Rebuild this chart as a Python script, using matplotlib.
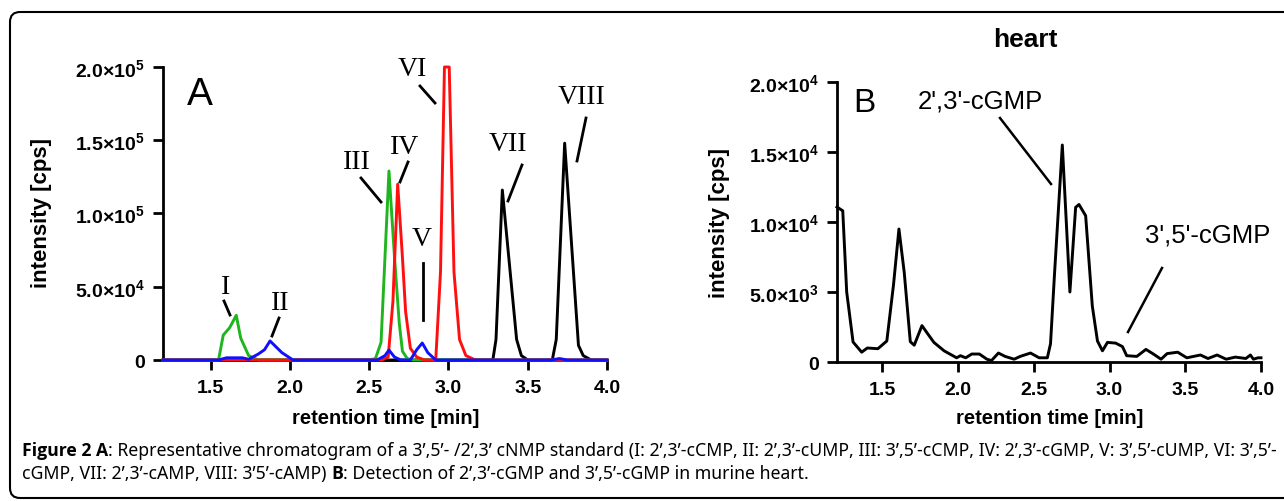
import matplotlib
matplotlib.use('Agg')
import matplotlib.pyplot as plt
from matplotlib.patches import FancyBboxPatch
from matplotlib.lines import Line2D
from matplotlib.transforms import IdentityTransform

plt.rcParams['font.family'] = ['Liberation Sans', 'DejaVu Sans']
plt.rcParams['mathtext.fontset'] = 'custom'
plt.rcParams['mathtext.rm'] = 'Liberation Sans:bold'
plt.rcParams['mathtext.bf'] = 'Liberation Sans:bold'
plt.rcParams['mathtext.it'] = 'Liberation Sans:bold'

# ---------------- data: panel A (retention time [min], intensity [cps]) ----------------
a_black_t = [1.2, 3.28, 3.30, 3.34, 3.43, 3.46, 3.50, 3.655, 3.68, 3.733, 3.82, 3.85, 3.90, 4.0]
a_black_v = [0, 0, 14e3, 116e3, 14e3, 3e3, 0, 0, 14e3, 148e3, 10e3, 3e3, 0, 0]

a_green_t = [1.2, 1.55, 1.58, 1.62, 1.662, 1.69, 1.74, 1.80, 2.50, 2.54, 2.575, 2.625,
             2.66, 2.69, 2.71, 2.74, 2.78, 4.0]
a_green_v = [0, 0, 17e3, 22e3, 30.5e3, 15e3, 3e3, 0, 0, 1e3, 12e3, 129e3,
             70e3, 25e3, 6e3, 1e3, 0, 0]

a_red_t = [1.2, 2.58, 2.62, 2.65, 2.68, 2.71, 2.73, 2.76, 2.80, 2.85, 2.92, 2.95,
           2.975, 3.005, 3.035, 3.07, 3.11, 3.17, 4.0]
a_red_v = [0, 0, 2e3, 40e3, 120e3, 70e3, 33e3, 8e3, 2e3, 0, 0, 60e3,
           200e3, 200e3, 60e3, 14e3, 3e3, 0, 0]

a_blue_t = [1.2, 1.55, 1.60, 1.70, 1.74, 1.80, 1.84, 1.875, 1.95, 2.02, 2.55, 2.60,
            2.625, 2.66, 2.70, 2.76, 2.80, 2.835, 2.87, 2.92, 3.65, 3.70, 3.75, 4.0]
a_blue_v = [0, 0, 1.5e3, 1.5e3, 0.5e3, 4e3, 7e3, 13e3, 5e3, 0, 0, 3e3,
            6.8e3, 2e3, 0, 0, 7e3, 11.6e3, 5e3, 0, 0, 1e3, 0, 0]

a_peak_labels = ['I', 'II', 'III', 'IV', 'V', 'VI', 'VII', 'VIII']

# ---------------- data: panel B (heart) ----------------
b_t = [1.2, 1.238, 1.264, 1.306, 1.363, 1.40, 1.47, 1.529, 1.573, 1.609, 1.644, 1.684,
       1.71, 1.761, 1.80, 1.84, 1.907, 1.99, 2.015, 2.05, 2.09, 2.14, 2.19, 2.22, 2.266,
       2.31, 2.37, 2.41, 2.478, 2.535, 2.589, 2.61, 2.637, 2.688, 2.738, 2.776, 2.798,
       2.842, 2.886, 2.92, 2.953, 2.986, 3.04, 3.085, 3.113, 3.18, 3.24, 3.285, 3.34,
       3.38, 3.45, 3.51, 3.6, 3.65, 3.71, 3.77, 3.83, 3.9, 3.93, 3.95, 3.98, 4.0]
b_v = [11.07e3, 10.8e3, 5.0e3, 1.43e3, 0.7e3, 1.0e3, 0.95e3, 1.5e3, 5.5e3, 9.5e3, 6.4e3, 1.45e3,
       1.2e3, 2.6e3, 2.0e3, 1.4e3, 0.8e3, 0.3e3, 0.45e3, 0.3e3, 0.57e3, 0.57e3, 0.2e3, 0.1e3, 0.64e3,
       0.4e3, 0.2e3, 0.4e3, 0.64e3, 0.3e3, 0.3e3, 1.3e3, 6.4e3, 15.5e3, 5.0e3, 11.05e3, 11.25e3,
       10.45e3, 4.0e3, 1.5e3, 0.8e3, 1.4e3, 1.35e3, 1.1e3, 0.45e3, 0.4e3, 0.9e3, 0.6e3, 0.2e3,
       0.6e3, 0.7e3, 0.3e3, 0.5e3, 0.25e3, 0.5e3, 0.2e3, 0.35e3, 0.25e3, 0.5e3, 0.2e3, 0.3e3, 0.3e3]

x_ticks = [1.5, 2.0, 2.5, 3.0, 3.5, 4.0]
x_ticklabels = ['1.5', '2.0', '2.5', '3.0', '3.5', '4.0']
a_yticks = [0, 5e4, 1e5, 1.5e5, 2e5]
a_yticklabels = ['0', '5.0×10$^{4}$', '1.0×10$^{5}$', '1.5×10$^{5}$', '2.0×10$^{5}$']
b_yticks = [0, 5e3, 1e4, 1.5e4, 2e4]
b_yticklabels = ['0', '5.0×10$^{3}$', '1.0×10$^{4}$', '1.5×10$^{4}$', '2.0×10$^{4}$']

caption_line1 = [("Figure 2 A", 'bold'),
                 (": Representative chromatogram of a 3’,5’- /2’,3’ cNMP standard (I: 2’,3’-cCMP, "
                  "II: 2’,3’-cUMP, III: 3’,5’-cCMP, IV: 2’,3’-cGMP, V: 3’,5’-cUMP, VI: 3’,5’-", 'normal')]
caption_line2 = [("cGMP, VII: 2’,3’-cAMP, VIII: 3’5’-cAMP) ", 'normal'), ("B", 'bold'),
                 (": Detection of 2’,3’-cGMP and 3’,5’-cGMP in murine heart.", 'normal')]

# ---------------- figure ----------------
W, H = 1284, 502
fig = plt.figure(figsize=(W / 100, H / 100), dpi=100)
fig.patch.set_facecolor('white')


def fx(px):
    return px / W


def fy(py):
    return 1 - py / H


def style(ax, yticks, yticklabels):
    ax.set_xlim(1.2, 4.0)
    ax.set_ylim(yticks[0], yticks[-1])
    for s in ['top', 'right']:
        ax.spines[s].set_visible(False)
    for s in ['left', 'bottom']:
        ax.spines[s].set_linewidth(2)
    ax.set_xticks(x_ticks, x_ticklabels, fontsize=14, fontweight='bold')
    ax.set_yticks(yticks, yticklabels, fontsize=14, fontweight='bold')
    ax.tick_params(axis='both', width=2, length=7)
    ax.tick_params(axis='x', pad=7)
    ax.tick_params(axis='y', pad=6)
    ax.patch.set_alpha(0)


# Panel A
axA = fig.add_axes([fx(163), fy(361), fx(607) - fx(163), fy(68) - fy(361)])
style(axA, a_yticks, a_yticklabels)
lw = 2.1
axA.plot(a_black_t, a_black_v, color='black', lw=lw, clip_on=False, zorder=3)
axA.plot(a_green_t, a_green_v, color='#1fb51f', lw=lw, clip_on=False, zorder=4)
axA.plot(a_red_t, a_red_v, color='#ff1010', lw=lw, clip_on=False, zorder=5)
axA.plot(a_blue_t, a_blue_v, color='#1010ff', lw=lw, clip_on=False, zorder=6)

# Panel B
axB = fig.add_axes([fx(837), fy(363), fx(1261) - fx(837), fy(83) - fy(363)])
style(axB, b_yticks, b_yticklabels)
axB.plot(b_t, b_v, color='black', lw=lw, clip_on=False, zorder=3)

# axis labels
for xc in (386, 1050):
    fig.text(fx(xc), fy(418), 'retention time [min]', ha='center', va='center',
             fontsize=14.5, fontweight='bold')
for xc, yc in ((42, 213), (720, 223)):
    fig.text(fx(xc), fy(yc), 'intensity [cps]', ha='center', va='center',
             fontsize=16, fontweight='bold', rotation=90)

# panel letters and title
fig.text(fx(200), fy(95), 'A', ha='center', va='center', fontsize=28)
fig.text(fx(864), fy(104), 'B', ha='center', va='center', fontsize=24)
fig.text(fx(1025), fy(40), 'heart', ha='center', va='center', fontsize=19, fontweight='bold')

# peak labels (panel A) : text position, leader line start/end (pixels)
a_label_pos = [(226, 287), (280, 303), (357, 163), (405, 148), (422, 240), (412, 69), (508, 145), (582, 98)]
a_label_lines = [((224, 302), (230, 316)), ((279, 319), (272, 337)), ((361, 179), (381, 203)),
                 ((408, 163), (400, 183)), ((423, 264), (423, 321)), ((420, 87), (435, 104)),
                 ((522, 166), (508, 202)), ((586, 119), (577, 162))]
for lab, (tx, ty), ((x1, y1), (x2, y2)) in zip(a_peak_labels, a_label_pos, a_label_lines):
    fig.text(fx(tx), fy(ty), lab, ha='center', va='center', fontsize=20,
             family=['Liberation Serif', 'DejaVu Serif'])
    fig.add_artist(Line2D([fx(x1), fx(x2)], [fy(y1), fy(y2)], transform=fig.transFigure,
                          color='black', lw=2))

# panel B labels
fig.text(fx(980), fy(101), "2',3'-cGMP", ha='center', va='center', fontsize=18.5)
fig.add_artist(Line2D([fx(1000), fx(1051)], [fy(119), fy(185)], transform=fig.transFigure,
                      color='black', lw=1.8))
fig.text(fx(1208), fy(236), "3',5'-cGMP", ha='center', va='center', fontsize=18.5)
fig.add_artist(Line2D([fx(1162), fx(1128)], [fy(269), fy(333)], transform=fig.transFigure,
                      color='black', lw=1.8))

# border
box = FancyBboxPatch((10, H - 499), 1320, 499 - 13, boxstyle='round,pad=0,rounding_size=10',
                     transform=IdentityTransform(), fill=False, edgecolor='black', lw=1.5)
fig.add_artist(box)

# caption with mixed weights
renderer = fig.canvas.get_renderer()


def piece_props(w):
    if w == 'bold':
        return dict(fontweight='bold', family=['Open Sans', 'DejaVu Sans'])
    return dict(fontweight='normal', family=['Noto Sans', 'Open Sans', 'DejaVu Sans'])


def draw_line(pieces, x0, yc, size):
    x = x0
    for s, w in pieces:
        t = fig.text(fx(x), fy(yc), s, ha='left', va='center', fontsize=size, **piece_props(w))
        bb = t.get_window_extent(renderer)
        x += bb.width
    return x - x0


# measure line 1 to fit width
base = 10.0
probe = [fig.text(0, 0, s, fontsize=base, **piece_props(w)) for s, w in caption_line1]
tot = sum(p.get_window_extent(renderer).width for p in probe)
for p in probe:
    p.remove()
size = base * 1250.0 / tot
draw_line(caption_line1, 22, 451, size)
draw_line(caption_line2, 22, 474, size)

fig.savefig('out.png', dpi=100)
